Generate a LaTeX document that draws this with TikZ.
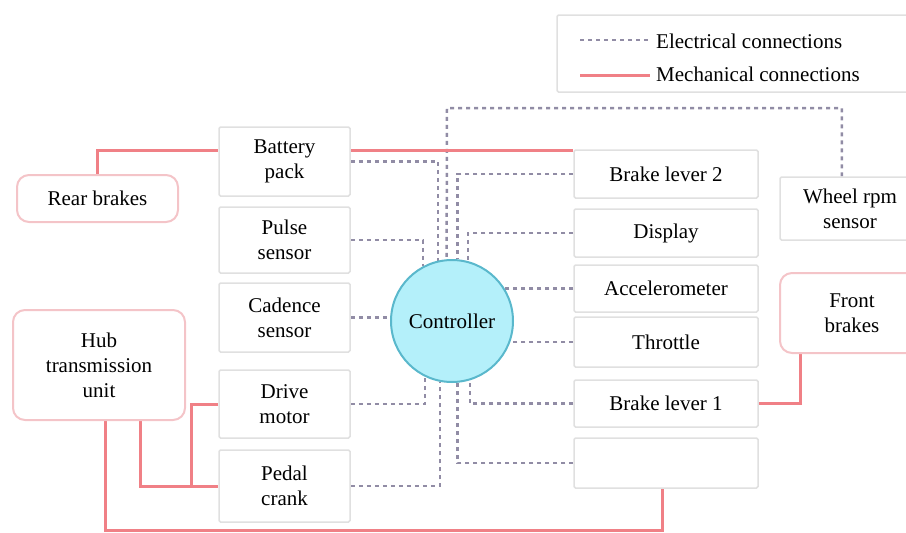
\documentclass[tikz,border=0pt]{standalone}
\usepackage{fontspec}
\setmainfont{Liberation Serif}
\usetikzlibrary{calc}
\pgfdeclarelayer{bg}
\pgfsetlayers{bg,main}
\definecolor{mech}{RGB}{240,128,134}
\definecolor{elec}{RGB}{145,140,165}
\definecolor{boxline}{RGB}{224,224,224}
\definecolor{pinkline}{RGB}{244,196,200}
\definecolor{ctrlfill}{RGB}{180,240,250}
\definecolor{ctrlline}{RGB}{90,184,204}
\begin{document}
\begin{tikzpicture}[x=1pt,y=-1pt,
  every node/.style={font=\fontsize{21}{25}\selectfont, align=center, inner sep=0pt},
  plainbox/.style={draw=boxline, line width=1.5pt, fill=white, rounded corners=1.5pt},
  leftbox/.style={plainbox, minimum width=131pt},
  rightbox/.style={plainbox, minimum width=184pt},
  softbox/.style={draw=pinkline, line width=2pt, fill=white, rounded corners=12pt},
  ctrlstyle/.style={circle, draw=ctrlline, fill=ctrlfill, line width=2pt, minimum size=122pt},
  elecline/.style={draw=elec, line width=2.5pt, dash pattern=on 4pt off 4pt},
  mechline/.style={draw=mech, line width=3pt},
]
\useasboundingbox (0,0) rectangle (906,533);
\begin{scope}
\clip (0,0) rectangle (906,533);
% legend
\node[plainbox, minimum width=360pt, minimum height=77pt] (legend) at (737,53.5) {};
\coordinate (le1) at (580,40);
\coordinate (le2) at (650,40);
\coordinate (lm1) at (580,75);
\coordinate (lm2) at (650,75);
\draw[elecline] (le1) -- (le2);
\draw[mechline] (lm1) -- (lm2);
\node[anchor=west] (lt1) at (656,41) {Electrical connections};
\node[anchor=west] (lt2) at (656,74) {Mechanical connections};

% left column
\node[leftbox, minimum height=69pt] (batt) at (284.5,161.5) {Battery\\pack};
\node[leftbox, minimum height=66pt] (pulse) at (284.5,240) {Pulse\\sensor};
\node[leftbox, minimum height=69pt] (cad) at (284.5,317.5) {Cadence\\sensor};
\node[leftbox, minimum height=68pt] (drive) at (284.5,404) {Drive\\motor};
\node[leftbox, minimum height=72pt] (pedal) at (284.5,486) {Pedal\\crank};

% right column
\node[rightbox, minimum height=48pt] (bl2) at (666,174) {Brake lever 2};
\node[rightbox, minimum height=48pt] (disp) at (666,233) {Display};
\node[rightbox, minimum height=47pt] (acc) at (666,288.5) {Accelerometer};
\node[rightbox, minimum height=50pt] (thr) at (666,342) {Throttle};
\node[rightbox, minimum height=47pt] (bl1) at (666,403.5) {Brake lever 1};
\node[rightbox, minimum height=50pt] (empty) at (666,463) {};

% far boxes
\node[plainbox, minimum width=140pt, minimum height=63pt] (wheel) at (850,208.5) {Wheel rpm\\sensor};
\node[softbox, minimum width=144pt, minimum height=80pt] (front) at (852,313) {Front\\brakes};
\node[softbox, minimum width=161pt, minimum height=47pt] (rear) at (97.5,198.5) {Rear brakes};
\node[softbox, minimum width=172pt, minimum height=110pt] (hub) at (99,365) {Hub\\transmission\\unit};

% controller
\node[ctrlstyle] (ctrl) at (452,321) {Controller};

\coordinate (etop) at (447,108);

\begin{pgfonlayer}{bg}
% electrical
\draw[elecline] ($(wheel.north west)!0.443!(wheel.north east)$) |- (etop) -- (ctrl.95);
\draw[elecline] (batt.east) -| (ctrl.103);
\draw[elecline] (bl2.west) -| (ctrl.85);
\draw[elecline] (disp.west) -| (ctrl.75);
\draw[elecline] (pulse.east) -| (ctrl.118);
\draw[elecline] (acc.west) -- (acc.west -| ctrl.center);
\draw[elecline] (cad.east) -- (cad.east -| ctrl.center);
\draw[elecline] (thr.west) -- (thr.west -| ctrl.center);
\draw[elecline] (drive.east) -| (ctrl.244);
\draw[elecline] (pedal.east) -| (ctrl.259);
\draw[elecline] (bl1.west) -| (ctrl.287);
\draw[elecline] (empty.west) -| (ctrl.275);
% mechanical
\draw[mechline] (rear.north) |- ($(batt.north west)!0.35!(batt.south west)$);
\draw[mechline] ($(batt.north east)!0.35!(batt.south east)$) coordinate (bm) -- (bm -| bl2.west);
\draw[mechline] ($(hub.south west)!0.74!(hub.south east)$) |- (pedal.west);
\draw[mechline] (drive.west) -| ($(pedal.west)+(-27,0)$);
\draw[mechline] ($(hub.south west)!0.535!(hub.south east)$) |- ($(empty.south)+(-4,42)$) -- ($(empty.south)+(-4,0)$);
\draw[mechline] (bl1.east) -| ($(front.south west)!0.15!(front.south east)$);
\end{pgfonlayer}
\end{scope}
\end{tikzpicture}
\end{document}
